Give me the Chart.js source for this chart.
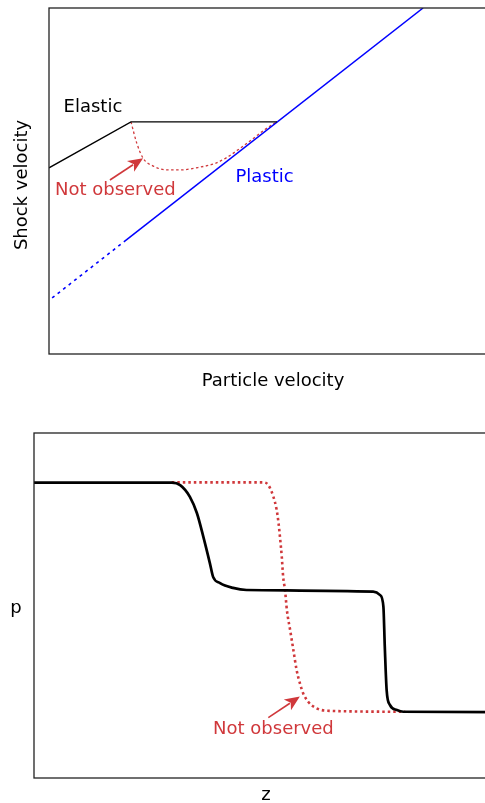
<!DOCTYPE html>
<html>
<head>
<meta charset="utf-8">
<script src="https://cdn.jsdelivr.net/npm/chart.js@4"></script>
<style>
html,body{margin:0;padding:0;overflow:hidden;background:#fff;width:485px;height:803px;}
canvas{position:absolute;left:0;display:block;}
#c1{top:0;}
#c2{top:400px;}
</style>
</head>
<body>
<canvas id="c1" width="498" height="400" style="width:498px;height:400px"></canvas>
<canvas id="c2" width="498" height="403" style="width:498px;height:403px"></canvas>
<script>
// ---- Top chart data (Particle velocity vs Shock velocity) ----
const elasticX = [0, 1.83, 5.09];
const elasticY = [5.38, 6.71, 6.71];
const plasticSolidX = [1.67, 8.35];
const plasticSolidY = [3.24, 10.0];
const plasticDashX = [0.07, 1.67];
const plasticDashY = [1.62, 3.24];
const notObsTopX = [1.83, 1.96, 2.10, 2.33, 2.63, 2.92, 3.37, 3.71, 3.97, 4.26, 4.56, 4.82, 5.00, 5.09];
const notObsTopY = [6.71, 6.09, 5.66, 5.43, 5.32, 5.32, 5.40, 5.51, 5.68, 5.94, 6.23, 6.49, 6.64, 6.71];

// ---- Bottom chart data (p vs z) ----
const profileX = [0, 2.97, 3.15, 3.36, 3.51, 3.65, 3.79, 3.86, 4.01, 4.29, 4.58, 7.31, 7.46, 7.53, 7.56, 7.60, 7.67, 7.82, 7.96, 10];
const profileY = [8.56, 8.56, 8.49, 8.15, 7.68, 6.99, 6.23, 5.83, 5.65, 5.51, 5.45, 5.40, 5.30, 4.97, 3.81, 2.55, 2.12, 1.97, 1.92, 1.91];
const notObsBotX = [2.97, 4.94, 5.05, 5.16, 5.23, 5.27, 5.30, 5.34, 5.37, 5.41, 5.45, 5.52, 5.59, 5.66, 5.73, 5.80, 5.91, 6.09, 6.31, 8.00];
const notObsBotY = [8.57, 8.57, 8.49, 8.15, 7.77, 7.39, 7.00, 6.41, 5.83, 5.45, 4.87, 4.29, 3.71, 3.13, 2.75, 2.46, 2.21, 2.02, 1.95, 1.92];

// ---- Text labels ----
const topLabels = [
  {text: 'Elastic', x: 0.98, y: 7.14, color: '#000000'},
  {text: 'Not observed', x: 1.48, y: 4.72, color: '#d0383b'},
  {text: 'Plastic', x: 4.81, y: 5.10, color: '#0000ff'}
];
const topArrow = {x0: 1.36, y0: 5.03, x1: 2.10, y1: 5.66};
const botLabels = [
  {text: 'Not observed', x: 5.16, y: 1.41, color: '#d0383b'}
];
const botArrow = {x0: 5.05, y0: 1.75, x1: 5.73, y1: 2.36};

const RED = '#d0383b';
const FONT = '18px "DejaVu Sans"';

function pts(xs, ys){ return xs.map((x,i)=>({x:x, y:ys[i]})); }

function framePlugin(opts){
  return {
    id: 'frameAndText',
    afterDraw(chart){
      const ctx = chart.ctx, a = chart.chartArea;
      const sx = chart.scales.x, sy = chart.scales.y;
      ctx.save();
      // frame
      ctx.strokeStyle = '#222';
      ctx.lineWidth = 1.3;
      ctx.strokeRect(a.left, a.top, a.right - a.left, a.bottom - a.top);
      ctx.font = FONT;
      ctx.textAlign = 'center';
      ctx.textBaseline = 'middle';
      // annotation labels
      opts.labels.forEach(l => {
        ctx.fillStyle = l.color;
        ctx.fillText(l.text, sx.getPixelForValue(l.x), sy.getPixelForValue(l.y));
      });
      // arrow
      const ar = opts.arrow;
      const x0 = sx.getPixelForValue(ar.x0), y0 = sy.getPixelForValue(ar.y0);
      const x1 = sx.getPixelForValue(ar.x1), y1 = sy.getPixelForValue(ar.y1);
      const ang = Math.atan2(y1 - y0, x1 - x0);
      const hl = 15, hw = 6.5;
      const bx = x1 - hl*Math.cos(ang), by = y1 - hl*Math.sin(ang);
      ctx.strokeStyle = RED; ctx.fillStyle = RED; ctx.lineWidth = 1.6;
      ctx.beginPath(); ctx.moveTo(x0, y0); ctx.lineTo(bx + 3*Math.cos(ang), by + 3*Math.sin(ang)); ctx.stroke();
      ctx.beginPath();
      ctx.moveTo(x1, y1);
      ctx.lineTo(bx + hw*Math.sin(ang), by - hw*Math.cos(ang));
      ctx.lineTo(bx + 4*Math.cos(ang), by + 4*Math.sin(ang));
      ctx.lineTo(bx - hw*Math.sin(ang), by + hw*Math.cos(ang));
      ctx.closePath(); ctx.fill();
      // axis titles
      ctx.fillStyle = '#000';
      ctx.fillText(opts.xTitle, (a.left + a.right)/2, a.bottom + opts.xOff);
      if (opts.yRot) {
        ctx.save();
        ctx.translate(a.left - opts.yOff, opts.yCenter);
        ctx.rotate(-Math.PI/2);
        ctx.fillText(opts.yTitle, 0, 0);
        ctx.restore();
      } else {
        ctx.fillText(opts.yTitle, a.left - opts.yOff, opts.yCenter);
      }
      ctx.restore();
    }
  };
}

function baseOptions(padding){
  return {
    responsive: false,
    animation: false,
    devicePixelRatio: 1,
    layout: {padding: padding},
    plugins: {legend: {display: false}, tooltip: {enabled: false}},
    scales: {
      x: {type: 'linear', min: 0, max: 10, display: false},
      y: {type: 'linear', min: 0, max: 10, display: false}
    },
    elements: {point: {radius: 0}}
  };
}

new Chart(document.getElementById('c1'), {
  type: 'scatter',
  data: {
    datasets: [
      {data: pts(elasticX, elasticY), showLine: true, borderColor: '#000', borderWidth: 1.3, tension: 0},
      {data: pts(plasticSolidX, plasticSolidY), showLine: true, borderColor: '#0000ff', borderWidth: 1.5, tension: 0},
      {data: pts(plasticDashX, plasticDashY), showLine: true, borderColor: '#0000ff', borderWidth: 1.6, borderDash: [3, 4], tension: 0},
      {data: pts(notObsTopX, notObsTopY), showLine: true, borderColor: RED, borderWidth: 1.3, borderDash: [2.5, 2.5], cubicInterpolationMode: 'monotone'}
    ]
  },
  options: baseOptions({left: 49, top: 8, right: 1, bottom: 46}),
  plugins: [framePlugin({labels: topLabels, arrow: topArrow, xTitle: 'Particle velocity', xOff: 27, yTitle: 'Shock velocity', yOff: 27, yCenter: 185, yRot: true})]
});

new Chart(document.getElementById('c2'), {
  type: 'scatter',
  data: {
    datasets: [
      {data: pts(profileX, profileY), showLine: true, borderColor: '#000', borderWidth: 2.7, cubicInterpolationMode: 'monotone'},
      {data: pts(notObsBotX, notObsBotY), showLine: true, borderColor: RED, borderWidth: 2.6, borderDash: [2.5, 3], cubicInterpolationMode: 'monotone'}
    ]
  },
  options: baseOptions({left: 34, top: 33, right: 0, bottom: 25}),
  plugins: [framePlugin({labels: botLabels, arrow: botArrow, xTitle: 'z', xOff: 17, yTitle: 'p', yOff: 18, yCenter: 208, yRot: false})]
});
</script>
</body>
</html>
